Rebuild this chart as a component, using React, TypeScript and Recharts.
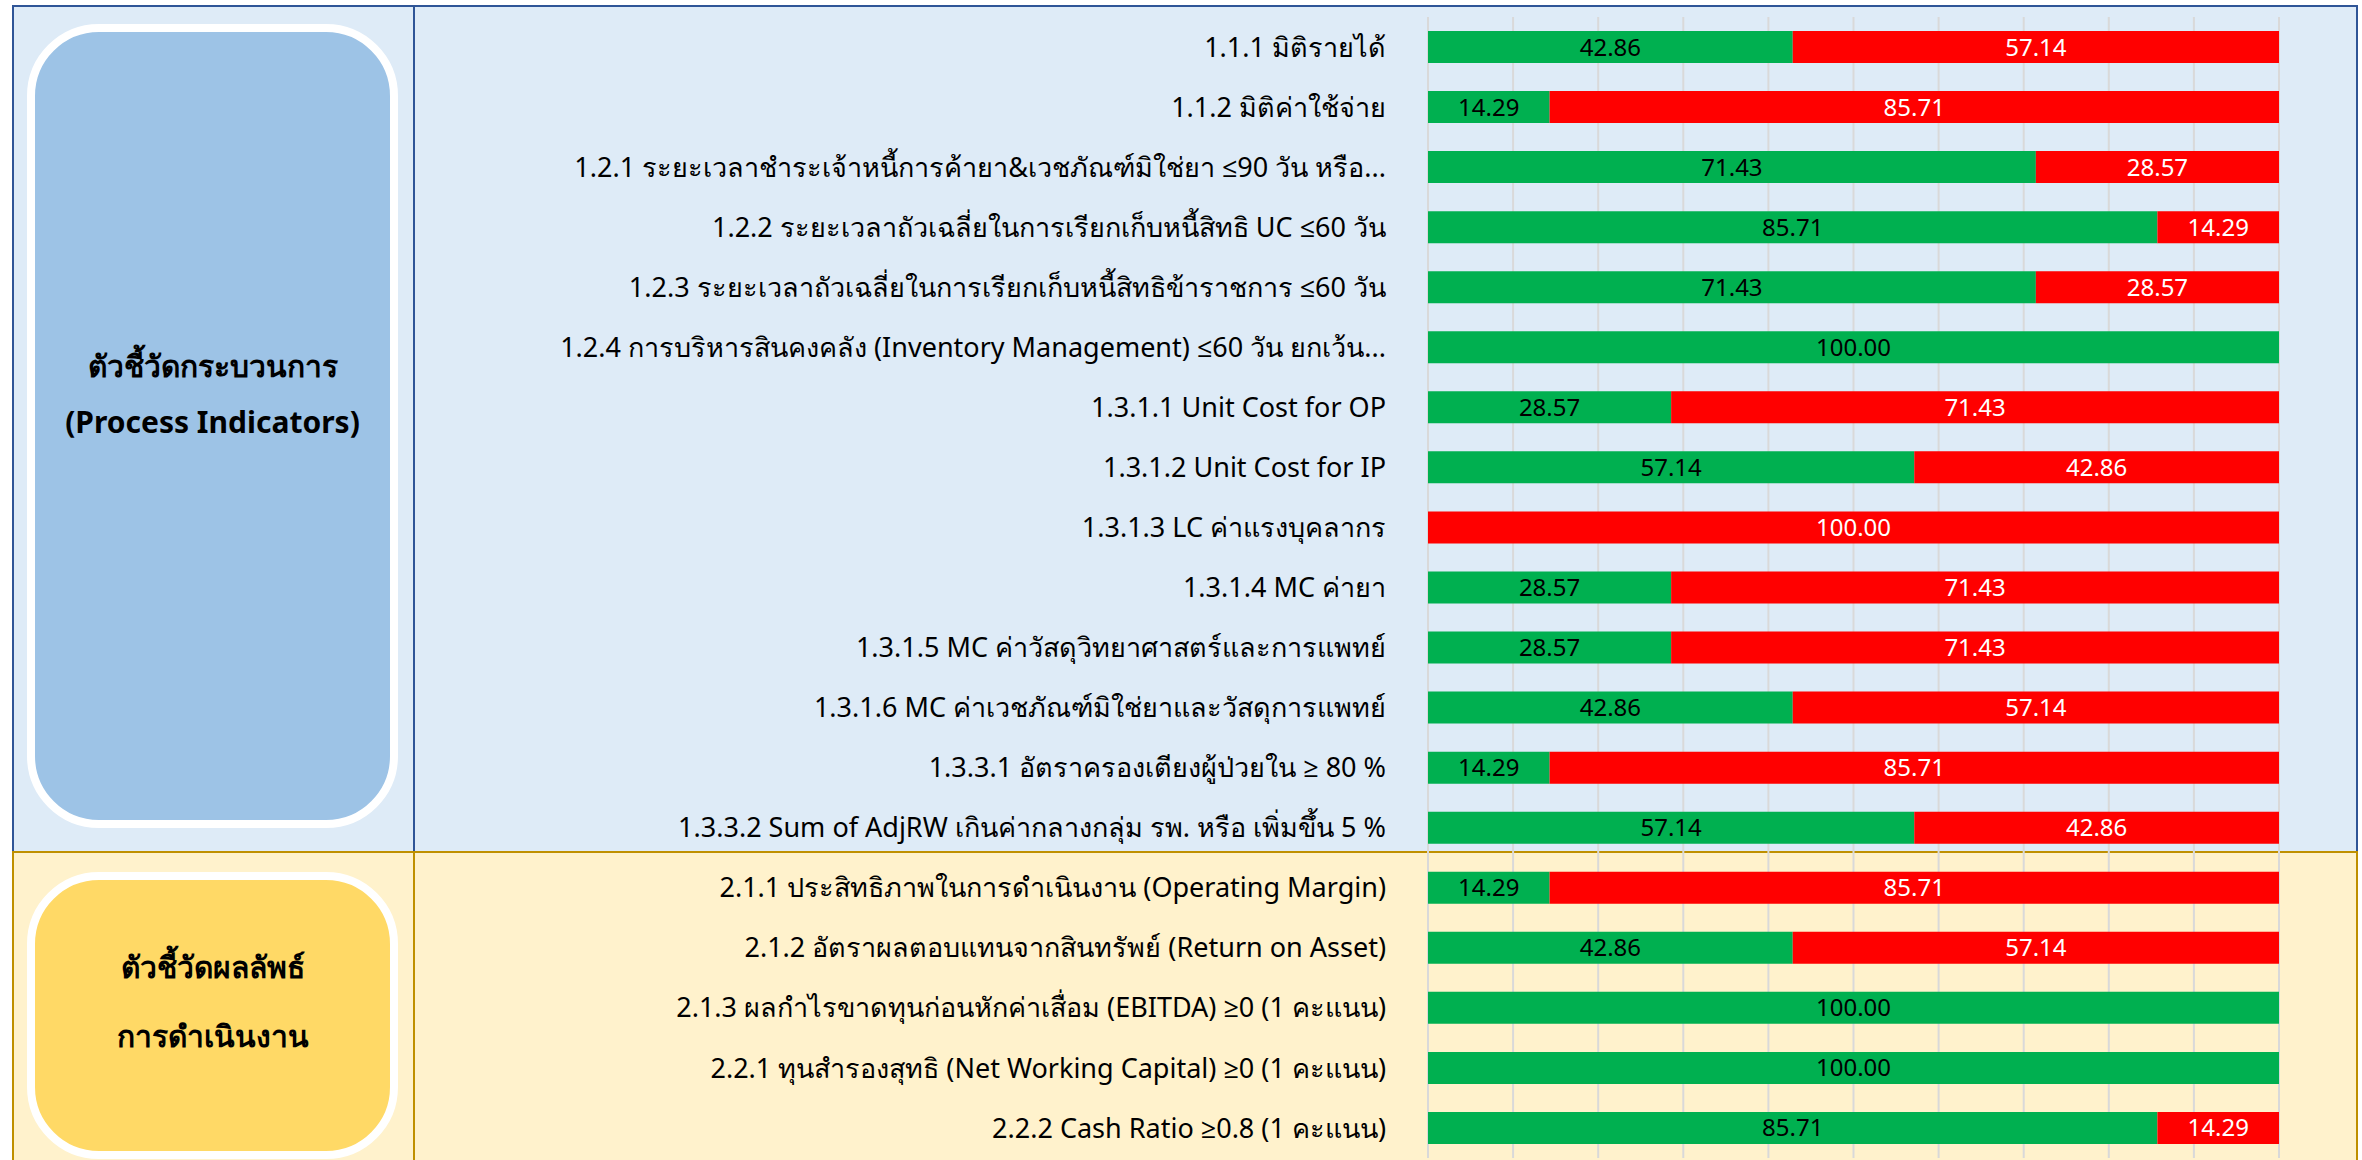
import React from "react";
import { BarChart, Bar, XAxis, YAxis, CartesianGrid, LabelList } from "recharts";

const indicators = [
  "1.1.1 มิติรายได้",
  "1.1.2 มิติค่าใช้จ่าย",
  "1.2.1 ระยะเวลาชำระเจ้าหนี้การค้ายา&เวชภัณฑ์มิใช่ยา ≤90 วัน หรือ...",
  "1.2.2 ระยะเวลาถัวเฉลี่ยในการเรียกเก็บหนี้สิทธิ UC ≤60 วัน",
  "1.2.3 ระยะเวลาถัวเฉลี่ยในการเรียกเก็บหนี้สิทธิข้าราชการ ≤60 วัน",
  "1.2.4 การบริหารสินคงคลัง (Inventory Management) ≤60 วัน ยกเว้น...",
  "1.3.1.1 Unit Cost for OP",
  "1.3.1.2 Unit Cost for IP",
  "1.3.1.3 LC ค่าแรงบุคลากร",
  "1.3.1.4 MC ค่ายา",
  "1.3.1.5 MC ค่าวัสดุวิทยาศาสตร์และการแพทย์",
  "1.3.1.6 MC ค่าเวชภัณฑ์มิใช่ยาและวัสดุการแพทย์",
  "1.3.3.1 อัตราครองเตียงผู้ป่วยใน ≥ 80 %",
  "1.3.3.2 Sum of AdjRW เกินค่ากลางกลุ่ม รพ. หรือ เพิ่มขึ้น 5 %",
  "2.1.1 ประสิทธิภาพในการดำเนินงาน (Operating Margin)",
  "2.1.2 อัตราผลตอบแทนจากสินทรัพย์ (Return on Asset)",
  "2.1.3 ผลกำไรขาดทุนก่อนหักค่าเสื่อม (EBITDA) ≥0 (1 คะแนน)",
  "2.2.1 ทุนสำรองสุทธิ (Net Working Capital) ≥0 (1 คะแนน)",
  "2.2.2 Cash Ratio ≥0.8 (1 คะแนน)",
];

// ผ่าน (เขียว) / ไม่ผ่าน (แดง) เป็นร้อยละ
const passed = [42.86, 14.29, 71.43, 85.71, 71.43, 100, 28.57, 57.14, 0, 28.57, 28.57, 42.86, 14.29, 57.14, 14.29, 42.86, 100, 100, 85.71];
const failed = [57.14, 85.71, 28.57, 14.29, 28.57, 0, 71.43, 42.86, 100, 71.43, 71.43, 57.14, 85.71, 42.86, 85.71, 57.14, 0, 0, 14.29];

const xTicks = [0, 10, 20, 30, 40, 50, 60, 70, 80, 90, 100];

const data = indicators.map((name, i) => ({ name, passed: passed[i], failed: failed[i] }));

const FONT = '"Noto Sans", "Open Sans", sans-serif';
const GREEN = "#00B050";
const RED = "#FF0000";

const fmt = (v: any) => (Number(v) > 0 ? Number(v).toFixed(2) : "");

function SideBox({
  top,
  height,
  fill,
  lineHeight,
  lift,
  children,
}: {
  top: number;
  height: number;
  fill: string;
  lineHeight: number;
  lift: number;
  children: React.ReactNode;
}) {
  return (
    <div
      style={{
        position: "absolute",
        left: 27,
        top,
        width: 371,
        height,
        boxSizing: "border-box",
        border: "8px solid #ffffff",
        borderRadius: 72,
        background: fill,
        display: "flex",
        flexDirection: "column",
        alignItems: "center",
        justifyContent: "center",
        paddingBottom: lift * 2,
        fontFamily: FONT,
        fontWeight: 700,
        fontSize: 30,
        lineHeight: `${lineHeight}px`,
        color: "#000",
        textAlign: "center",
      }}
    >
      {children}
    </div>
  );
}

export default function App() {
  return (
    <div style={{ position: "absolute", left: 0, top: 0, width: 2362, height: 1160, overflow: "hidden", background: "#fff" }}>
      {/* blue section */}
      <div style={{ position: "absolute", left: 12, top: 5, width: 2346, height: 849, boxSizing: "border-box", background: "#DEEBF7", border: "2px solid #2F5597" }} />
      <div style={{ position: "absolute", left: 413, top: 5, width: 2, height: 849, background: "#2F5597" }} />
      {/* yellow section */}
      <div style={{ position: "absolute", left: 12, top: 851, width: 2346, height: 320, boxSizing: "border-box", background: "#FFF2CC", border: "2px solid #BF9000" }} />
      <div style={{ position: "absolute", left: 413, top: 851, width: 2, height: 320, background: "#BF9000" }} />

      <SideBox top={24} height={804} fill="#9DC3E6" lineHeight={56} lift={32}>
        <div>ตัวชี้วัดกระบวนการ</div>
        <div>(Process Indicators)</div>
      </SideBox>
      <SideBox top={872} height={287} fill="#FFD966" lineHeight={69} lift={15}>
        <div>ตัวชี้วัดผลลัพธ์</div>
        <div>การดำเนินงาน</div>
      </SideBox>

      <div style={{ position: "absolute", left: 0, top: 0 }}>
        <BarChart
          width={2362}
          height={1160}
          data={data}
          layout="vertical"
          margin={{ top: 17, right: 83, bottom: 2, left: 0 }}
          barSize={32}
        >
          <CartesianGrid horizontal={false} stroke="#D9D9D9" strokeWidth={2} />
          <XAxis type="number" domain={[0, 100]} ticks={xTicks} hide />
          <YAxis
            type="category"
            dataKey="name"
            width={1428}
            axisLine={false}
            tickLine={false}
            tickSize={0}
            tickMargin={42}
            interval={0}
            tick={{ fill: "#000", fontSize: 27, fontFamily: FONT }}
          />
          <Bar dataKey="passed" stackId="a" fill={GREEN} isAnimationActive={false}>
            <LabelList dataKey="passed" position="center" formatter={fmt} fill="#000" fontSize={24} fontFamily={FONT} />
          </Bar>
          <Bar dataKey="failed" stackId="a" fill={RED} isAnimationActive={false}>
            <LabelList dataKey="failed" position="center" formatter={fmt} fill="#fff" fontSize={24} fontFamily={FONT} />
          </Bar>
        </BarChart>
      </div>
    </div>
  );
}
